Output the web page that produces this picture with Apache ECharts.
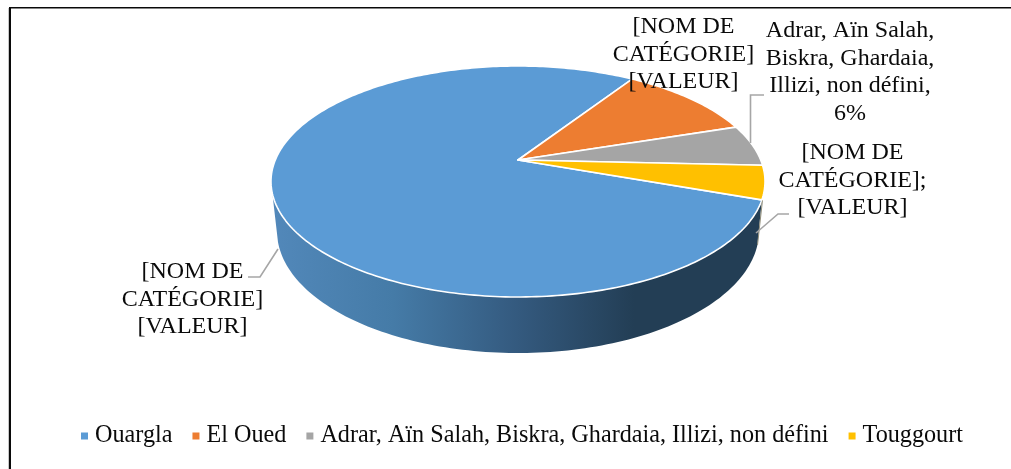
<!DOCTYPE html>
<html><head><meta charset="utf-8">
<style>html,body{margin:0;padding:0;background:#fff}#c{width:1011px;height:469px}</style>
<script src="https://cdn.jsdelivr.net/npm/echarts@6/dist/echarts.min.js"></script>
</head><body><div id="c"></div>
<script>
const categories = ['Ouargla', 'El Oued', 'Adrar, Aïn Salah, Biskra, Ghardaia, Illizi, non défini', 'Touggourt'];
const values = [78.7, 10.8, 5.8, 4.7];
const sliceColors = ['#5b9bd5', '#ed7d31', '#a5a5a5', '#ffc000'];
const labelTexts = [
  '[NOM DE\nCATÉGORIE]\n[VALEUR]',
  '[NOM DE\nCATÉGORIE]\n[VALEUR]',
  'Adrar, Aïn Salah,\nBiskra, Ghardaia,\nIllizi, non défini,\n6%',
  '[NOM DE\nCATÉGORIE];\n[VALEUR]'
];

// Layout of the tilted pie (perspective projection of a unit disc)
const APEX = {x: 518, y: 160};
const K = 0.186, A = 242.7, B = 111.5;
const BASE = {cx: 518, cy: 231, rx: 241, ry: 122};
const START = -19.6;             // degrees, slices run clockwise from here
const LEFT_EXTREME = -169.3;     // rim angle of the widest point on the left
const FONT = '24px "Liberation Serif", "Times New Roman", serif';
const LINE_H = 27.5;

const total = values.reduce((a, b) => a + b, 0);
function bounds(i) {
  const before = values.slice(0, i).reduce((a, b) => a + b, 0);
  return [START - before / total * 360, START - (before + values[i]) / total * 360];
}
function rim(deg) {
  const t = deg * Math.PI / 180, u = Math.cos(t), v = Math.sin(t), w = 1 + K * v;
  return [APEX.x + A * u / w, APEX.y - B * v / w];
}
function arc(from, to) {
  const pts = [], n = Math.max(2, Math.ceil(Math.abs(to - from)));
  for (let j = 0; j <= n; j++) pts.push(rim(from + (to - from) * j / n));
  return pts;
}
// bottom edge of the wall: a lower ellipse swept between two directions
function baseEdge(a0, a1) {
  const pts = [];
  for (let j = 0; j <= 120; j++) {
    const a = a0 + (a1 - a0) * j / 120;
    pts.push([BASE.cx + BASE.rx * Math.sin(a), BASE.cy + BASE.ry * Math.cos(a)]);
  }
  return pts;
}

const labelPos = [[192.5, 272], [683.5, 27], [850, 31], [852.5, 153]];
const leaders = [
  [[278, 249], [260, 277], [248, 277]],
  null,
  [[750.5, 143], [750.5, 95], [764, 95]],
  [[756, 233], [778, 214], [789, 214]]
];

function wall() {
  // Front wall of the pie: from the widest left point of the rim round the front to the Ouargla start
  const topArc = arc(LEFT_EXTREME, START);
  const bottom = baseEdge(Math.atan2(-0.995, 0.09), Math.atan2(0.993, 0.115));
  return {
    type: 'polygon', z2: 0,
    shape: {points: topArc.concat(bottom.reverse())},
    style: {
      fill: new echarts.graphic.LinearGradient(0, 0, 1, 0, [
        {offset: 0, color: '#5288ba'},
        {offset: 0.25, color: '#457ba7'},
        {offset: 0.5, color: '#345a7f'},
        {offset: 0.74, color: '#233e55'},
        {offset: 1, color: '#233e55'}
      ]),
      stroke: null
    }
  };
}

function makeSeries(i) {
  return {
    type: 'custom',
    name: categories[i],
    coordinateSystem: 'none',
    silent: true,
    animation: false,
    itemStyle: {color: sliceColors[i]},
    data: [values[i]],
    z: i === 0 ? 2 : 3,
    renderItem() {
      const [a0, a1] = bounds(i);
      const children = [];
      if (i === 0) children.push(wall());
      if (i === 3) children.push({
        type: 'polyline', z2: 1,
        shape: {points: [[762.5, 200], [757.5, 245]]},
        style: {stroke: '#8f8c78', lineWidth: 1, fill: null}
      });
      children.push({
        type: 'polygon', z2: 2,
        shape: {points: [[APEX.x, APEX.y]].concat(arc(a0, a1))},
        style: {fill: sliceColors[i], stroke: '#ffffff', lineWidth: 1.6, lineJoin: 'round'}
      });
      if (leaders[i]) children.push({
        type: 'polyline', z2: 3,
        shape: {points: leaders[i]},
        style: {stroke: '#a6a6a6', lineWidth: 1.6, fill: null}
      });
      labelTexts[i].split('\n').forEach((line, j) => children.push({
        type: 'text', z2: 4,
        style: {
          text: line, x: labelPos[i][0], y: labelPos[i][1] + j * LINE_H,
          align: 'center', verticalAlign: 'middle', font: FONT, fill: '#0a0a0a'
        }
      }));
      return {type: 'group', children};
    }
  };
}

const chart = echarts.init(document.getElementById('c'), null, {renderer: 'canvas'});
chart.setOption({
  animation: false,
  backgroundColor: '#ffffff',
  legend: {
    data: categories,
    left: 81, top: 424, padding: 0,
    icon: 'rect', itemWidth: 7, itemHeight: 7, itemGap: 20,
    selectedMode: false,
    textStyle: {fontFamily: '"Liberation Serif", "Times New Roman", serif', fontSize: 24.2, color: '#0a0a0a', padding: [0, 0, 0, 2]}
  },
  series: categories.map((_, i) => makeSeries(i)),
  graphic: [
    {type: 'rect', shape: {x: 8, y: 8, width: 1, height: 461}, style: {fill: '#c8c8c8'}, silent: true},
    {type: 'rect', shape: {x: 9, y: 7, width: 2, height: 462}, style: {fill: '#0a0a0a'}, silent: true},
    {type: 'rect', shape: {x: 9, y: 7, width: 1002, height: 1.5}, style: {fill: '#0a0a0a'}, silent: true}
  ]
});
</script></body></html>
